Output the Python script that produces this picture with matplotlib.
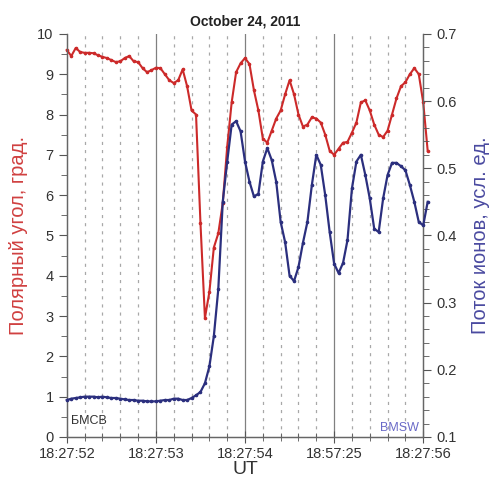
import numpy as np
import matplotlib
matplotlib.use("Agg")
import matplotlib.pyplot as plt
from matplotlib.ticker import MultipleLocator

plt.rcParams["font.family"] = ["Liberation Sans", "DejaVu Sans"]

# time from 18:27:52, seconds, 0.05 s step
t = np.arange(82) * 0.05

# polar angle, degrees
angle = [9.60, 9.45, 9.65, 9.55, 9.53, 9.53, 9.52, 9.47, 9.43, 9.40,
         9.35, 9.30, 9.32, 9.40, 9.45, 9.32, 9.30, 9.15, 9.05, 9.10,
         9.16, 9.15, 9.00, 8.85, 8.78, 8.85, 9.12, 8.70, 8.10, 8.00,
         5.30, 2.95, 3.60, 4.70, 5.05, 5.80, 7.20, 8.30, 9.05, 9.27,
         9.40, 9.25, 8.60, 8.10, 7.40, 7.30, 7.60, 7.90, 8.10, 8.50,
         8.85, 8.50, 8.00, 7.70, 7.75, 7.93, 7.90, 7.80, 7.50, 7.10,
         7.00, 7.15, 7.30, 7.32, 7.55, 7.80, 8.30, 8.35, 8.10, 7.75,
         7.50, 7.44, 7.60, 8.00, 8.40, 8.70, 8.80, 9.00, 9.15, 9.00,
         8.30, 7.10]

# ion flux, arb. units
flux = [0.155, 0.157, 0.158, 0.159, 0.160, 0.160, 0.160, 0.159, 0.160, 0.159,
        0.158, 0.158, 0.157, 0.156, 0.155, 0.155, 0.154, 0.154, 0.153, 0.153,
        0.153, 0.154, 0.155, 0.155, 0.157, 0.157, 0.155, 0.155, 0.158, 0.162,
        0.167, 0.180, 0.205, 0.250, 0.320, 0.450, 0.510, 0.565, 0.570, 0.555,
        0.510, 0.480, 0.458, 0.462, 0.510, 0.530, 0.512, 0.480, 0.420, 0.390,
        0.340, 0.332, 0.353, 0.389, 0.420, 0.475, 0.520, 0.505, 0.460, 0.405,
        0.358, 0.344, 0.359, 0.393, 0.470, 0.510, 0.520, 0.490, 0.455, 0.410,
        0.405, 0.455, 0.490, 0.508, 0.508, 0.503, 0.497, 0.475, 0.450, 0.420,
        0.415, 0.450]

xticks = [0, 1, 2, 3, 4]
xlabels = ["18:27:52", "18:27:53", "18:27:54", "18:57:25", "18:27:56"]

red = "#cc2a2a"
navy = "#2b2f7e"

fig = plt.figure(figsize=(4.95, 4.91), dpi=100)
ax = fig.add_axes([0.135, 0.11, 0.72, 0.821])
ax2 = ax.twinx()

# fine time grid: dashed every 0.2 s, solid every second
for x in np.arange(0.2, 4.0, 0.2):
    if abs(x - round(x)) < 1e-6:
        ax.axvline(x, color="#808080", lw=0.9, zorder=1)
    else:
        ax.axvline(x, color="#a8a8a8", lw=0.9, ls=(0, (2.5, 4)), zorder=1)

ax.plot(t, angle, color=red, lw=1.5, marker="o", ms=1.6, clip_on=False, zorder=3)
ax2.plot(t, flux, color=navy, lw=1.6, marker="o", ms=1.6, clip_on=False, zorder=3)

ax.set_xlim(0, 4)
ax.set_ylim(0, 10)
ax2.set_ylim(0.1, 0.7)

ax.set_xticks(xticks)
ax.set_xticklabels(xlabels)
ax.xaxis.set_minor_locator(MultipleLocator(0.2))
ax.yaxis.set_major_locator(MultipleLocator(1))
ax.yaxis.set_minor_locator(MultipleLocator(0.5))
ax2.yaxis.set_major_locator(MultipleLocator(0.1))
ax2.yaxis.set_minor_locator(MultipleLocator(0.02))

ax.tick_params(axis="x", direction="inout", length=8, color="#555555",
               labelsize=10.5, colors="#333333")
ax.tick_params(axis="x", which="minor", direction="inout", length=6, color="#555555")
ax.tick_params(axis="y", direction="out", length=6, color="#555555",
               labelsize=10.5, colors="#333333")
ax.tick_params(axis="y", which="minor", direction="out", length=4, color="#555555")
ax2.tick_params(axis="y", direction="out", length=6, color="#555555",
                labelsize=10.5, colors="#333333")
ax2.tick_params(axis="y", which="minor", direction="out", length=4, color="#555555")

for a in (ax, ax2):
    a.spines["top"].set_visible(False)
    for s in ("left", "right", "bottom"):
        a.spines[s].set_color("#666666")
        a.spines[s].set_linewidth(0.9)

ax.set_xlabel("UT", fontsize=14, color="#333333", labelpad=0)
ax.set_ylabel("Полярный угол, град.", fontsize=14.5, color="#d04040")
ax.yaxis.set_label_coords(-0.108, 0.5)
ax2.set_ylabel("Поток ионов, усл. ед.", fontsize=14.5, color="#4a4aa0", rotation=90)
ax2.yaxis.set_label_coords(1.135, 0.5)
ax.set_title("October 24, 2011", fontsize=10, fontweight="bold", color="#222222", pad=6)

ax.text(0.05, 0.25, "БМСВ", fontsize=9, color="#333333", ha="left", va="bottom")
ax2.text(3.95, 0.105, "BMSW", fontsize=9, color="#6a6ac8", ha="right", va="bottom")

fig.savefig("out.png", dpi=100)
